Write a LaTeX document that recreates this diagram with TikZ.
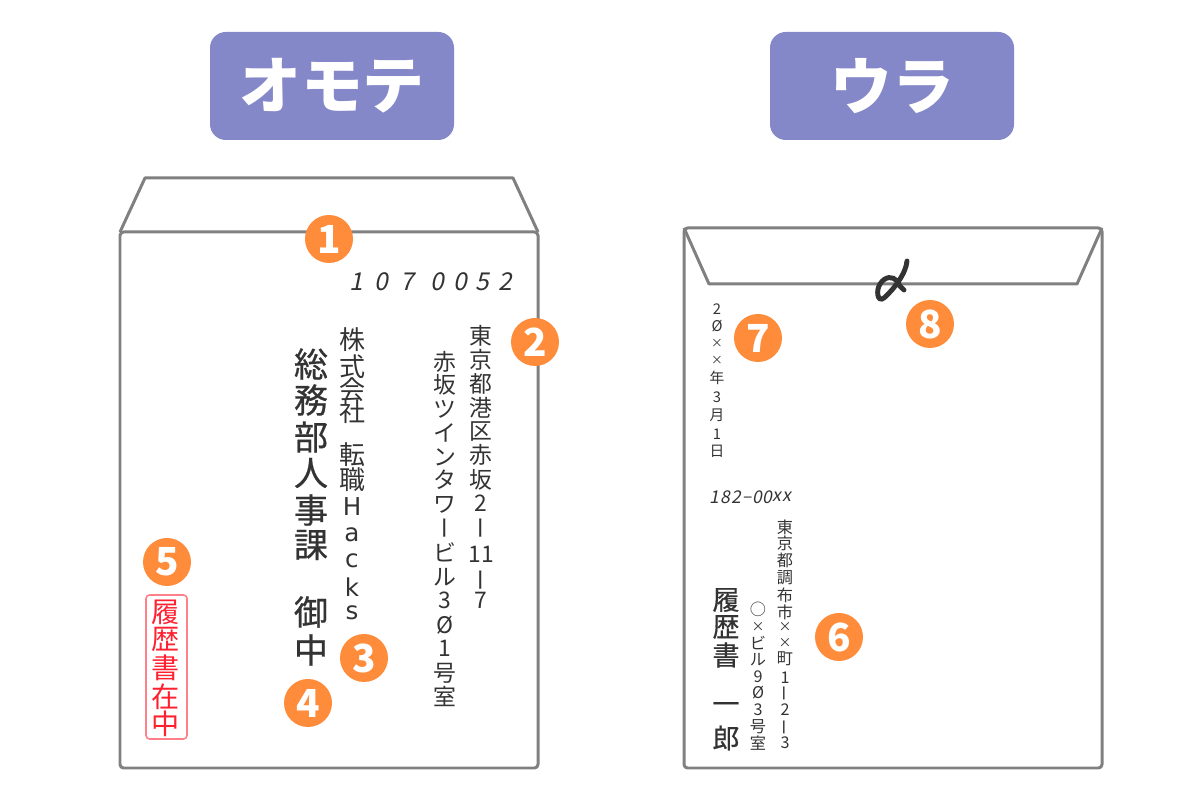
\documentclass[tikz,border=0pt]{standalone}
\usepackage{fontspec}
\setmainfont{Noto Sans}
\newfontfamily\jpfont{Noto Sans CJK JP}
\newfontfamily\jpheavy[FakeBold=0.6]{Noto Sans CJK JP}
\newfontfamily\latinfont{DejaVu Sans}
\definecolor{bandblue}{HTML}{8487C8}
\definecolor{badgeorange}{HTML}{FF8C3A}
\definecolor{envgray}{HTML}{808080}
\definecolor{inkgray}{HTML}{333333}
\definecolor{stampred}{HTML}{FF2030}
\definecolor{stampline}{HTML}{FF8088}
\newcommand{\vbar}{\hspace{0.3em}\rotatebox[origin=c]{90}{ー}}
\newcommand{\zr}{Ø}
\newcommand{\tm}{\scalebox{0.8}{×}}
\tikzset{
	header/.style={fill=bandblue, rounded corners=4.5pt, minimum width=24.4mm, minimum height=10.8mm, inner sep=0pt, text=white, font=\jpfont\bfseries\fontsize{17.6}{18}\selectfont},
	badge/.style={circle, fill=badgeorange, minimum size=4.8mm, inner sep=0pt, text=white, font=\jpfont\bfseries\fontsize{11}{12}\selectfont},
	envelope/.style={draw=envgray, line width=0.85pt, line join=round},
	ch/.style={inner sep=0pt, text=inkgray, font=\jpfont\fontsize{#1}{#1}\selectfont},
	heavych/.style={inner sep=0pt, text=inkgray, font=\jpheavy\fontsize{#1}{#1}\selectfont},
	slantch/.style={inner sep=0pt, text=inkgray, xslant=0.2, font=\jpfont\fontsize{#1}{#1}\selectfont},
	redch/.style={inner sep=0pt, text=stampred, font=\jpfont\fontsize{8}{8}\selectfont},
}
\begin{document}
\begin{tikzpicture}[x=0.1mm, y=-0.1mm]
	\useasboundingbox (0,0) rectangle (1200,800);
	\node[header] (omote)at(332, 86) {オモテ};
	\node[header] (ura)at(892, 86) {ウラ};
	\draw[envelope, rounded corners=1pt] (120,232) rectangle (538,768);
	\draw[envelope] (120,232) -- (145,178) -- (513,178) -- (538,232);
	\draw[envelope, rounded corners=1pt] (684,228) rectangle (1102,768);
	\draw[envelope] (684,228) -- (709,284) -- (1077,284) -- (1102,228);
	\draw[inkgray, line width=1.4pt, line cap=round] (907,261) .. controls (906,274) and (893,290) .. (884,298) .. controls (877,303) and (876,290) .. (880,284) .. controls (885,276) and (893,276) .. (897,281) .. controls (899,285) and (901,288) .. (904,290);
	\foreach \x/\c in {358/1,383/0,409/7,439/0,462/0,484/5,507/2}
		\node[slantch=7] (zipA\x)at(\x, 282) {\c};
	\foreach \y/\c in {336/東,360/京,384/都,408/港,432/区,455/赤,480/坂,503/2,528/\vbar,554/11,580/\vbar,600/7}
		\node[ch=6.5] (addrA\y)at(481, \y) {\c};
	\foreach \y/\c in {362/赤,385/坂,409/ツ,433/イ,457/ン,480/タ,505/ワ,528/\vbar,552/ビ,577/ル,600/3,625/\zr,648/1,673/号,697/室}
		\node[ch=6.5] (addrB\y)at(445, \y) {\c};
	\foreach \y/\c in {340/株,367/式,390/会,412/社,455/転,480/職}
		\node[ch=7.4] (firm\y)at(352, \y) {\c};
	\foreach \y/\c in {507/H,535/a,561/c,587/k,613/s}
		\node[ch=7] (firm\y)at(352, \y) {\latinfont\c};
	\foreach \y/\c in {364/総,400/務,437/部,473/人,510/事,545/課,612/御,650/中}
		\node[heavych=9.7] (dept\y)at(311, \y) {\c};
	\node[draw=stampline, rounded corners=1pt, line width=0.45pt, minimum width=4.1mm, minimum height=14.4mm, inner sep=0pt] (stamp)at(166.5, 667) {};
	\foreach \y/\c in {612/履,639/歴,668/書,697/在,724/中}
		\node[redch] (red\y)at(166, \y) {\c};
	\foreach \y/\c in {309/2,326/\zr,343/\tm,360/\tm,378/年,397/3,415/月,434/1,451/日}
		\node[ch=4.2] (date\y)at(717, \y) {\c};
	\foreach \x/\y/\c in {716/497/1,727/497/8,738/497/2,748/500/–,759/497/0,769/497/0,778/497/x,788/497/x}
		\node[slantch=5] (zipB\x)at(\x, \y) {\c};
	\foreach \y/\c in {527/東,543/京,560/都,578/調,595/布,612/市,627/\tm,643/\tm,659/町,678/1,693/\vbar,710/2,727/\vbar,743/3}
		\node[ch=4.6] (homeA\y)at(785, \y) {\c};
	\foreach \y/\c in {609/○,627/\tm,643/ビ,660/ル,677/9,693/\zr,710/3,727/号,743/室}
		\node[ch=4.6] (homeB\y)at(758, \y) {\c};
	\foreach \y/\c in {600/履,627/歴,655/書,708/一,738/郎}
		\node[heavych=7.7] (name\y)at(726, \y) {\c};
	\node[badge] (b1)at(329, 239) {1};
	\node[badge] (b2)at(535, 342) {2};
	\node[badge] (b3)at(364, 658) {3};
	\node[badge] (b4)at(308, 703) {4};
	\node[badge] (b5)at(167, 562) {5};
	\node[badge] (b6)at(839, 637) {6};
	\node[badge] (b7)at(758, 338) {7};
	\node[badge] (b8)at(930, 324) {8};
\end{tikzpicture}
\end{document}
